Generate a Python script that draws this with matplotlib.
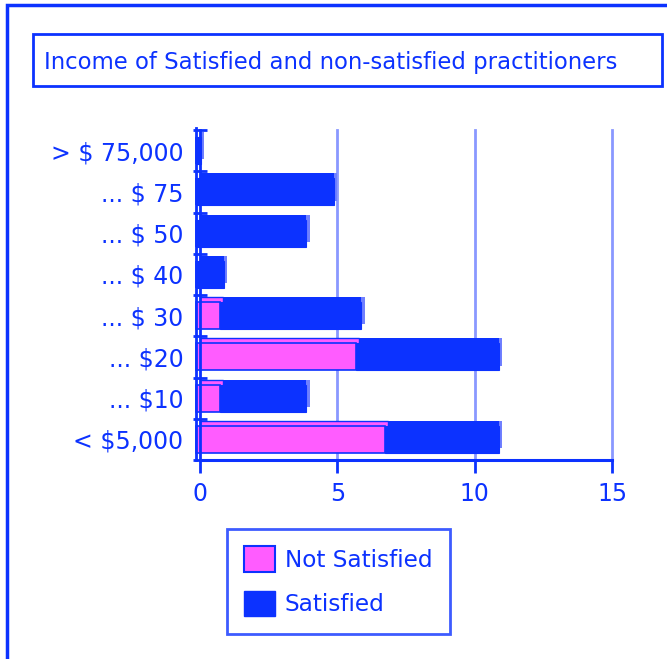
import matplotlib
matplotlib.use("Agg")
import matplotlib.pyplot as plt
from matplotlib.patches import Rectangle, Patch
import numpy as np

# categories bottom -> top
categories = ['< $5,000', '... $10', '... $20', '... $ 30',
              '... $ 40', '... $ 50', '... $ 75', '> $ 75,000']
not_satisfied = [6.85, 0.85, 5.8, 0.85, 0, 0, 0, 0]
satisfied = [4.15, 3.15, 5.2, 5.15, 1.0, 4.0, 5.0, 0.15]
xticks = [0, 5, 10, 15]

BLUE = '#0c32ff'
SIDE = '#7080ff'
PINK = '#ff5cff'
GRID = '#8a98ff'

W, H = 667, 659
fig = plt.figure(figsize=(W / 100, H / 100), dpi=100)
plt.rcParams['font.family'] = ['DejaVu Sans']

def fx(px):
    return px / W

def fy(py):
    return 1 - py / H

# outer frame (runs off the right/bottom edge)
fig.patches.append(Rectangle((fx(7), fy(700)), 1.2, (700 - 5) / H,
                             transform=fig.transFigure, fill=False,
                             edgecolor=BLUE, lw=2.5))
# title box
fig.patches.append(Rectangle((fx(33), fy(86)), fx(662) - fx(33),
                             (86 - 34) / H, transform=fig.transFigure,
                             fill=False, edgecolor=BLUE, lw=2))
fig.text(fx(44), fy(62), 'Income of Satisfied and non-satisfied practitioners',
         color=BLUE, fontsize=16.4, va='center', ha='left')

ax = fig.add_axes([fx(200), fy(460), fx(612) - fx(200), (460 - 130) / H])
y = np.arange(len(categories))
h = 0.66
dx, dy = 0.13, 0.12

ns = np.array(not_satisfied)
sa = np.array(satisfied)
tot = ns + sa

# back faces (depth): top strip, lighter side strip
ax.barh(y + dy, tot, height=h, left=0, color=BLUE, zorder=2, clip_on=False)
ax.barh(y + dy, np.minimum(tot, dx), height=h, left=tot - np.minimum(tot, dx),
        color=SIDE, zorder=2.2, clip_on=False)
ax.barh(y + dy, ns, height=h, left=0, color=PINK, edgecolor=BLUE,
        lw=1, zorder=2.5, clip_on=False)
# front faces
ax.barh(y, sa, height=h, left=ns - dx, color=BLUE, edgecolor=BLUE,
        lw=0.8, zorder=3, clip_on=False)
ax.barh(y, ns, height=h, left=-dx, color=PINK, edgecolor=BLUE,
        lw=1.2, zorder=3.5, clip_on=False)

ax.set_xlim(0, 15)
ax.set_ylim(-0.5, len(categories) - 0.5)
ax.set_xticks(xticks)
ax.set_xticklabels([str(t) for t in xticks])
ax.set_yticks(y)
ax.set_yticklabels(categories)
ax.set_yticks(np.arange(-0.5, len(categories)), minor=True)

for g in xticks[1:]:
    ax.axvline(g, color=GRID, lw=2, zorder=1, clip_on=False)

for s in ['top', 'right']:
    ax.spines[s].set_visible(False)
ax.spines['left'].set_color(BLUE)
ax.spines['left'].set_linewidth(2)
ax.spines['left'].set_zorder(5)
ax.spines['bottom'].set_color(BLUE)
ax.spines['bottom'].set_linewidth(2.2)
# second wall line of the 3d axis
ax.plot([-0.14, -0.14], [-0.5, len(categories) - 0.45], color=BLUE,
        lw=2, clip_on=False, zorder=5)

ax.tick_params(axis='y', which='major', length=0, pad=12,
               labelsize=17, labelcolor=BLUE)
ax.tick_params(axis='y', which='minor', length=10, width=2, color=BLUE,
               direction='inout')
ax.tick_params(axis='x', length=9, width=2, color=BLUE, pad=7,
               labelsize=17, labelcolor=BLUE)

# legend box
handles = [Patch(facecolor=PINK, edgecolor=BLUE, lw=1.5, label='Not Satisfied'),
           Patch(facecolor=BLUE, edgecolor=BLUE, label='Satisfied')]
leg = fig.legend(handles=handles, loc='upper left',
                 bbox_to_anchor=(fx(227), fy(529)), fontsize=16.7,
                 frameon=True, fancybox=False, handlelength=1.3,
                 handleheight=1.3, borderpad=0.75, labelspacing=0.82,
                 handletextpad=0.45, borderaxespad=0, labelcolor=BLUE)
leg.get_frame().set_edgecolor(BLUE)
leg.get_frame().set_linewidth(2)

fig.savefig('out.png', dpi=100)
